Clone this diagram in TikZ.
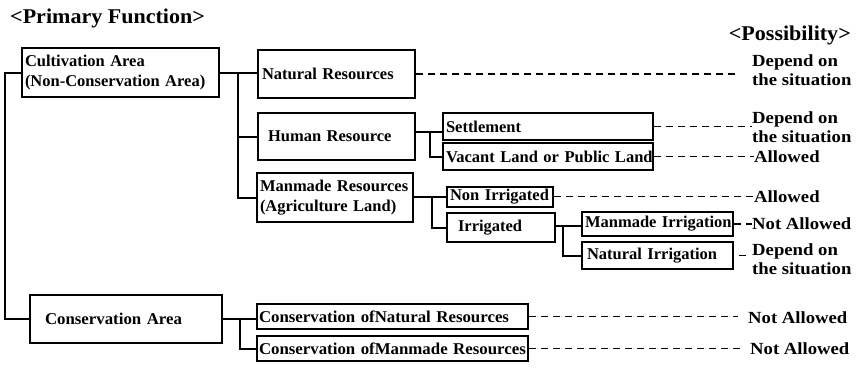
\documentclass[tikz,border=0pt]{standalone}
\usepackage{fontspec}
\setmainfont{Liberation Serif}
\newfontfamily\widefont[FakeStretch=1.1]{Liberation Serif}
\newfontfamily\headfont[FakeStretch=1.05]{Liberation Serif}
\newfontfamily\boxwidefont[FakeStretch=1.02]{Liberation Serif}
\begin{document}
\begin{tikzpicture}[x=1pt,y=-1pt,
  box/.style={draw, line width=2pt, inner ysep=0pt, align=left,
    font=\bfseries\fontsize{16.5}{20}\selectfont},
  widebox/.style={box, font=\boxwidefont\bfseries\fontsize{16.5}{20}\selectfont},
  lab/.style={anchor=west, inner sep=0pt, align=left,
    font=\widefont\bfseries\fontsize{17}{19}\selectfont},
  head/.style={inner sep=0pt, font=\headfont\bfseries\fontsize{21}{23}\selectfont},
  link/.style={line width=2pt},
  dashlink/.style={line width=1.5pt, dash pattern=on 7pt off 5pt}]
\fill[white] (0,0) rectangle (859,368);
\useasboundingbox (0,0) rectangle (859,368);

% column headings
\node[head, anchor=west] (hprim) at (10,18) {<Primary Function>};
\node[head, anchor=east] (hposs) at (851,35) {<Possibility>};

% first level
\node[box, text width=191pt, inner xsep=3pt, minimum height=49pt] (cult) at (120.5,72.5)
  {\mbox{Cultivation Area}\\\mbox{(Non-Conservation Area)}};
\node[widebox, text width=162pt, inner xsep=15pt, minimum height=48pt] (consarea) at (126,319)
  {\mbox{Conservation Area}};

% second level
\node[box, text width=149pt, inner xsep=4pt, minimum height=48pt] (natres) at (336.5,74)
  {\mbox{Natural Resources}};
\node[box, text width=137pt, inner xsep=10pt, minimum height=47pt] (human) at (336.5,136.5)
  {\mbox{Human Resource}};
\node[box, text width=150pt, inner xsep=3pt, minimum height=49pt] (manres) at (335,197.5)
  {\mbox{Manmade Resources}\\\mbox{(Agriculture Land)}};
\node[widebox, text width=267pt, inner xsep=2pt, minimum height=25pt] (consnat) at (392.5,316.5)
  {\mbox{Conservation ofNatural Resources}};
\node[widebox, text width=267pt, inner xsep=2pt, minimum height=25pt] (consman) at (392.5,348.5)
  {\mbox{Conservation ofManmade Resources}};

% third level
\node[box, text width=204pt, inner xsep=3pt, minimum height=27pt] (settle) at (548,126.5)
  {\mbox{Settlement}};
\node[box, text width=204pt, inner xsep=3pt, minimum height=27pt] (vacant) at (548,156.5)
  {\mbox{Vacant Land or Public Land}};
\node[box, text width=100pt, inner xsep=3pt, minimum height=20pt] (nonirr) at (500,196.5)
  {\mbox{Non Irrigated}};
\node[box, text width=86pt, inner xsep=11pt, minimum height=29pt] (irr) at (501,227.5)
  {\mbox{Irrigated}};

% fourth level
\node[box, text width=145pt, inner xsep=3pt, minimum height=24pt] (manirr) at (657.5,224)
  {\mbox{Manmade Irrigation}};
\node[box, text width=141pt, inner xsep=5pt, minimum height=27pt] (natirr) at (657.5,255.5)
  {\mbox{Natural Irrigation}};

% possibility labels
\node[lab] (p1) at (752,70.5) {Depend on\\the situation};
\node[lab] (p2) at (752,127.5) {Depend on\\the situation};
\node[lab] (p3) at (754,157) {Allowed};
\node[lab] (p4) at (754,196.5) {Allowed};
\node[lab] (p5) at (752,224) {Not Allowed};
\node[lab] (p6) at (752,259) {Depend on\\the situation};
\node[lab] (p7) at (748,318) {Not Allowed};
\node[lab] (p8) at (750,349) {Not Allowed};

% tree connectors
\coordinate (trunk) at (5,72.5);
\draw[link] (cult.west) -- (trunk) |- (consarea.west);

\coordinate (b1) at (238,72.5);
\draw[link] (cult.east) -- (natres.west |- cult.east);
\draw[link] (b1) |- (human.west);
\draw[link] (b1) |- (manres.west);

\coordinate (b2) at (430,132);
\draw[link] (human.east |- b2) -- (settle.west |- b2);
\draw[link] (b2) |- (vacant.west);

\coordinate (b3) at (432,196.5);
\draw[link] (manres.east |- b3) -- (nonirr.west);
\draw[link] (b3) |- (irr.west);

\coordinate (b4) at (563,226);
\draw[link] (irr.east |- b4) -- (manirr.west |- b4);
\draw[link] (b4) |- (natirr.west);

\coordinate (b5) at (240,319);
\draw[link] (consarea.east) -- (consnat.west |- consarea.east);
\draw[link] (b5) |- (consman.west);

% dashed leaders to the possibility column
\draw[dashlink, shorten >=15pt] (natres.east) -- (natres.east -| p1.west);
\draw[dashlink] (settle.east) -- (settle.east -| p2.west);
\draw[dashlink] (vacant.east) -- (vacant.east -| p3.west);
\draw[dashlink] (nonirr.east) -- (nonirr.east -| p4.west);
\draw[dashlink] (manirr.east) -- (manirr.east -| p5.west);
\draw[dashlink, shorten <=5pt, shorten >=6pt] (natirr.east) -- (natirr.east -| p6.west);
\draw[dashlink, shorten >=10pt] (consnat.east) -- (consnat.east -| p7.west);
\draw[dashlink, shorten >=10pt] (consman.east) -- (consman.east -| p8.west);
\end{tikzpicture}
\end{document}
